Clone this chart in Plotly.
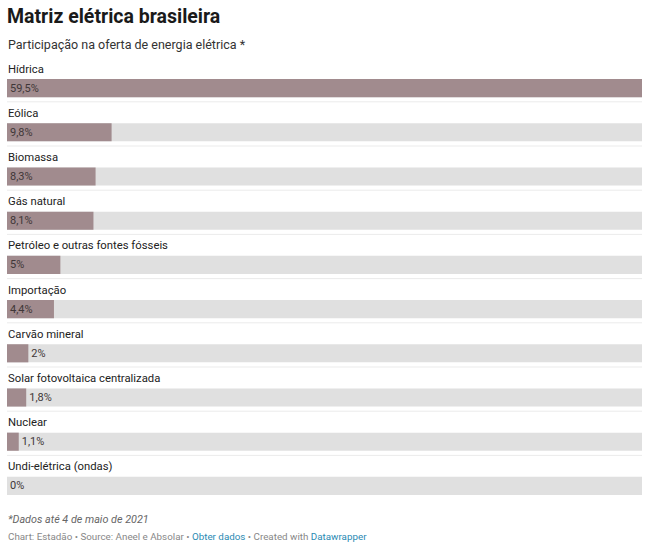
import plotly.graph_objects as go

categories = ["Hídrica", "Eólica", "Biomassa", "Gás natural", "Petróleo e outras fontes fósseis",
              "Importação", "Carvão mineral", "Solar fotovoltaica centralizada", "Nuclear",
              "Undi-elétrica (ondas)"]
values = [59.5, 9.8, 8.3, 8.1, 5.0, 4.4, 2.0, 1.8, 1.1, 0.0]
value_labels = ["59,5%", "9,8%", "8,3%", "8,1%", "5%", "4,4%", "2%", "1,8%", "1,1%", "0%"]

title = "Matriz elétrica brasileira"
subtitle = "Participação na oferta de energia elétrica *"
note = "*Dados até 4 de maio de 2021"

W, H = 650, 546
T, B, L, R = 66, 38, 7, 8
FONT = "Roboto, Arial, sans-serif"
BAR = "#a18b8e"
BG = "#e0e0e0"


def py(p):
    return (H - B - p) / (H - T - B)


vmax = max(values)
n = len(categories)
positions = ["inside" if v >= 3 else "outside" for v in values]

fig = go.Figure()
fig.add_trace(go.Bar(
    y=categories, x=[vmax] * n, orientation="h",
    marker=dict(color=BG, line=dict(width=0)), width=0.41,
    hoverinfo="skip", showlegend=False))
fig.add_trace(go.Bar(
    y=categories, x=values, orientation="h",
    marker=dict(color=BAR, line=dict(width=0)), width=0.41,
    text=value_labels, textposition=positions, insidetextanchor="start",
    textfont=dict(family=FONT, size=11, color="#3f3738"),
    constraintext="none", cliponaxis=False, showlegend=False))

annotations = []
for c in categories:
    annotations.append(dict(x=0, xref="x", y=c, yref="y", yshift=19, xshift=-1,
                            text=c, showarrow=False, xanchor="left", yanchor="middle",
                            font=dict(family=FONT, size=11.3, color="#222222")))

annotations += [
    dict(x=0, xref="paper", y=py(17), yref="paper", text="<b>" + title + "</b>",
         showarrow=False, xanchor="left", yanchor="middle", xshift=-2,
         font=dict(family=FONT, size=19.5, color="#1a1a1a")),
    dict(x=0, xref="paper", y=py(45), yref="paper", text=subtitle,
         showarrow=False, xanchor="left", yanchor="middle", xshift=-1,
         font=dict(family=FONT, size=12.5, color="#333333")),
    dict(x=0, xref="paper", y=py(519), yref="paper", text="<i>" + note + "</i>",
         showarrow=False, xanchor="left", yanchor="middle", xshift=-1,
         font=dict(family=FONT, size=10.8, color="#666666")),
    dict(x=0, xref="paper", y=py(536), yref="paper",
         text=("Chart: Estadão • Source: Aneel e Absolar • "
               "<span style='color:#2a8ab3'>Obter dados</span> • Created with "
               "<span style='color:#2a8ab3'>Datawrapper</span>"),
         showarrow=False, xanchor="left", yanchor="middle", xshift=-1,
         font=dict(family=FONT, size=9.8, color="#888888")),
]

shapes = []
for i in range(n - 1):
    shapes.append(dict(type="line", xref="paper", x0=0, x1=1, yref="y",
                       y0=i + 0.31, y1=i + 0.31, line=dict(color="#ebebeb", width=1)))

fig.update_layout(
    width=W, height=H, margin=dict(l=L, r=R, t=T, b=B),
    paper_bgcolor="white", plot_bgcolor="white", barmode="overlay",
    xaxis=dict(range=[0, vmax], visible=False, fixedrange=True),
    yaxis=dict(range=[n - 0.5, -0.5], visible=False, fixedrange=True),
    annotations=annotations, shapes=shapes, font=dict(family=FONT),
    uniformtext=dict(mode=False),
)

fig.write_html("out.html", config={"displayModeBar": False},
               post_script="document.body.style.margin='0';document.body.style.overflow='hidden';")
